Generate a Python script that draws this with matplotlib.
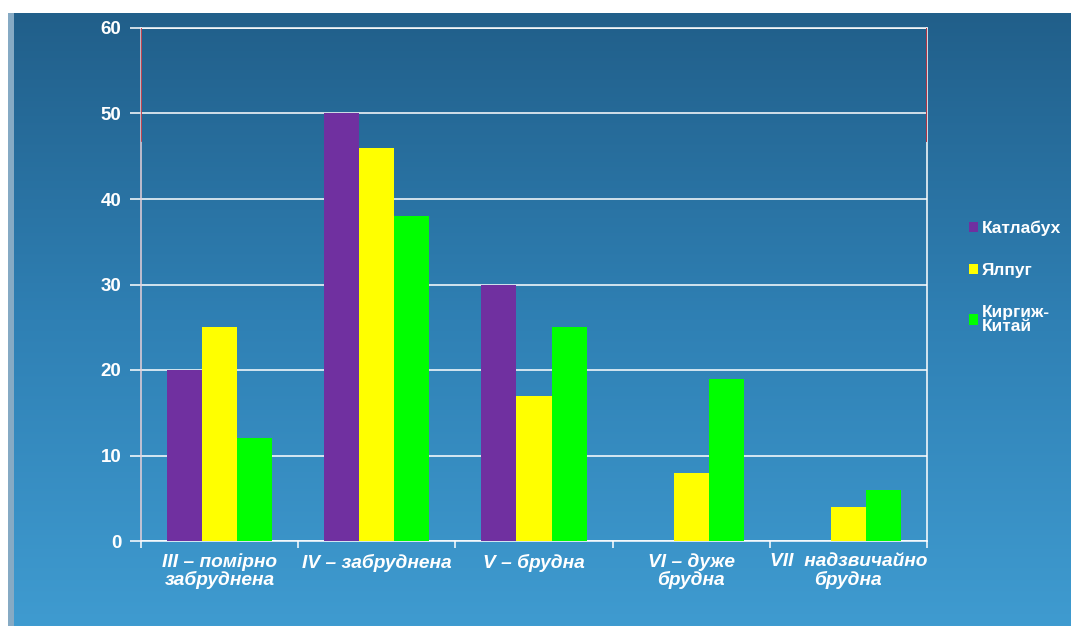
import numpy as np
import matplotlib.pyplot as plt
from matplotlib.colors import LinearSegmentedColormap
from matplotlib.patches import Rectangle, Patch

# pollution classes and share of samples per site
categories = ['III – помірно\nзабруднена', 'IV – забруднена', 'V – брудна',
              'VI – дуже\nбрудна', 'VII  надзвичайно\nбрудна']
sites = ['Катлабух', 'Ялпуг', 'Киргиж-\nКитай']
katlabukh = [20, 50, 30, 0, 0]
yalpuh = [25, 46, 17, 8, 4]
kyrhyzh = [12, 38, 25, 19, 6]
colors = ['#7030a0', '#ffff00', '#00ff00']

plt.rcParams['font.family'] = ['Liberation Sans', 'DejaVu Sans']

fig = plt.figure(figsize=(10.71, 6.26), dpi=100, facecolor='white')

# blue gradient panel behind the chart
top = (626 - 13) / 626
bg = fig.add_axes([10 / 1071, 0, 1 - 10 / 1071, top], zorder=-2)
grad = np.linspace(0, 1, 256).reshape(-1, 1)
cmap = LinearSegmentedColormap.from_list('panel', ['#3f9bd0', '#2f80b4', '#215f8a'])
bg.imshow(grad, aspect='auto', cmap=cmap, origin='lower', extent=[0, 1, 0, 1])
bg.set_axis_off()
fig.patches.append(Rectangle((8 / 1071, 0), 6 / 1071, top, transform=fig.transFigure,
                             facecolor='#86aac4', edgecolor='none', zorder=-1))

ax = fig.add_axes([141 / 1071, 85 / 626, (927 - 141) / 1071, (541 - 28) / 626])
ax.set_facecolor('none')

x = np.arange(len(categories))
w = 0.223
for i, (vals, c) in enumerate(zip([katlabukh, yalpuh, kyrhyzh], colors)):
    ax.bar(x + (i - 1) * w, vals, w, color=c, zorder=3)

ax.set_xlim(-0.5, len(categories) - 0.5)
ax.set_ylim(0, 60)
ax.set_yticks(range(0, 61, 10))
ax.yaxis.grid(True, color='white', lw=1.1, zorder=1)
ax.tick_params(axis='y', colors='white', length=8, width=1.1, labelsize=13.5, pad=6)
for t in ax.get_yticklabels():
    t.set_fontweight('bold')

# category boundaries get ticks, labels sit at group centres
ax.set_xticks(np.arange(-0.5, len(categories)), labels=[''] * (len(categories) + 1))
ax.set_xticks(x, labels=categories, minor=True)
ax.tick_params(axis='x', which='major', colors='white', length=5, width=1.1)
ax.tick_params(axis='x', which='minor', length=0, pad=9, labelsize=13.8, labelcolor='white')
for t in ax.get_xticklabels(minor=True):
    t.set_fontweight('bold')
    t.set_fontstyle('italic')
    t.set_linespacing(1.0)

for side in ['left', 'right', 'bottom', 'top']:
    ax.spines[side].set_color('white')
    ax.spines[side].set_linewidth(1.1)
ax.spines['left'].set_color('#e8d0d8')
ax.axvline(-0.5, ymin=0.78, ymax=1, color='#c0303a', lw=1.2, zorder=4)
ax.axvline(len(categories) - 0.5, ymin=0.78, ymax=1, color='#b03040', lw=1.4, zorder=4)

handles = [Patch(facecolor=c, edgecolor='none') for c in colors]
leg = fig.legend(handles, sites, loc='upper left', bbox_to_anchor=(955 / 1071, 1 - 207 / 626),
                 frameon=False, handlelength=0.55, handleheight=0.55, handletextpad=0.2,
                 labelspacing=1.55, borderpad=0.3, prop={'weight': 'bold', 'size': 12.5})
for t in leg.get_texts():
    t.set_color('white')
    t.set_linespacing(0.9)

fig.savefig('out.png', dpi=100)
